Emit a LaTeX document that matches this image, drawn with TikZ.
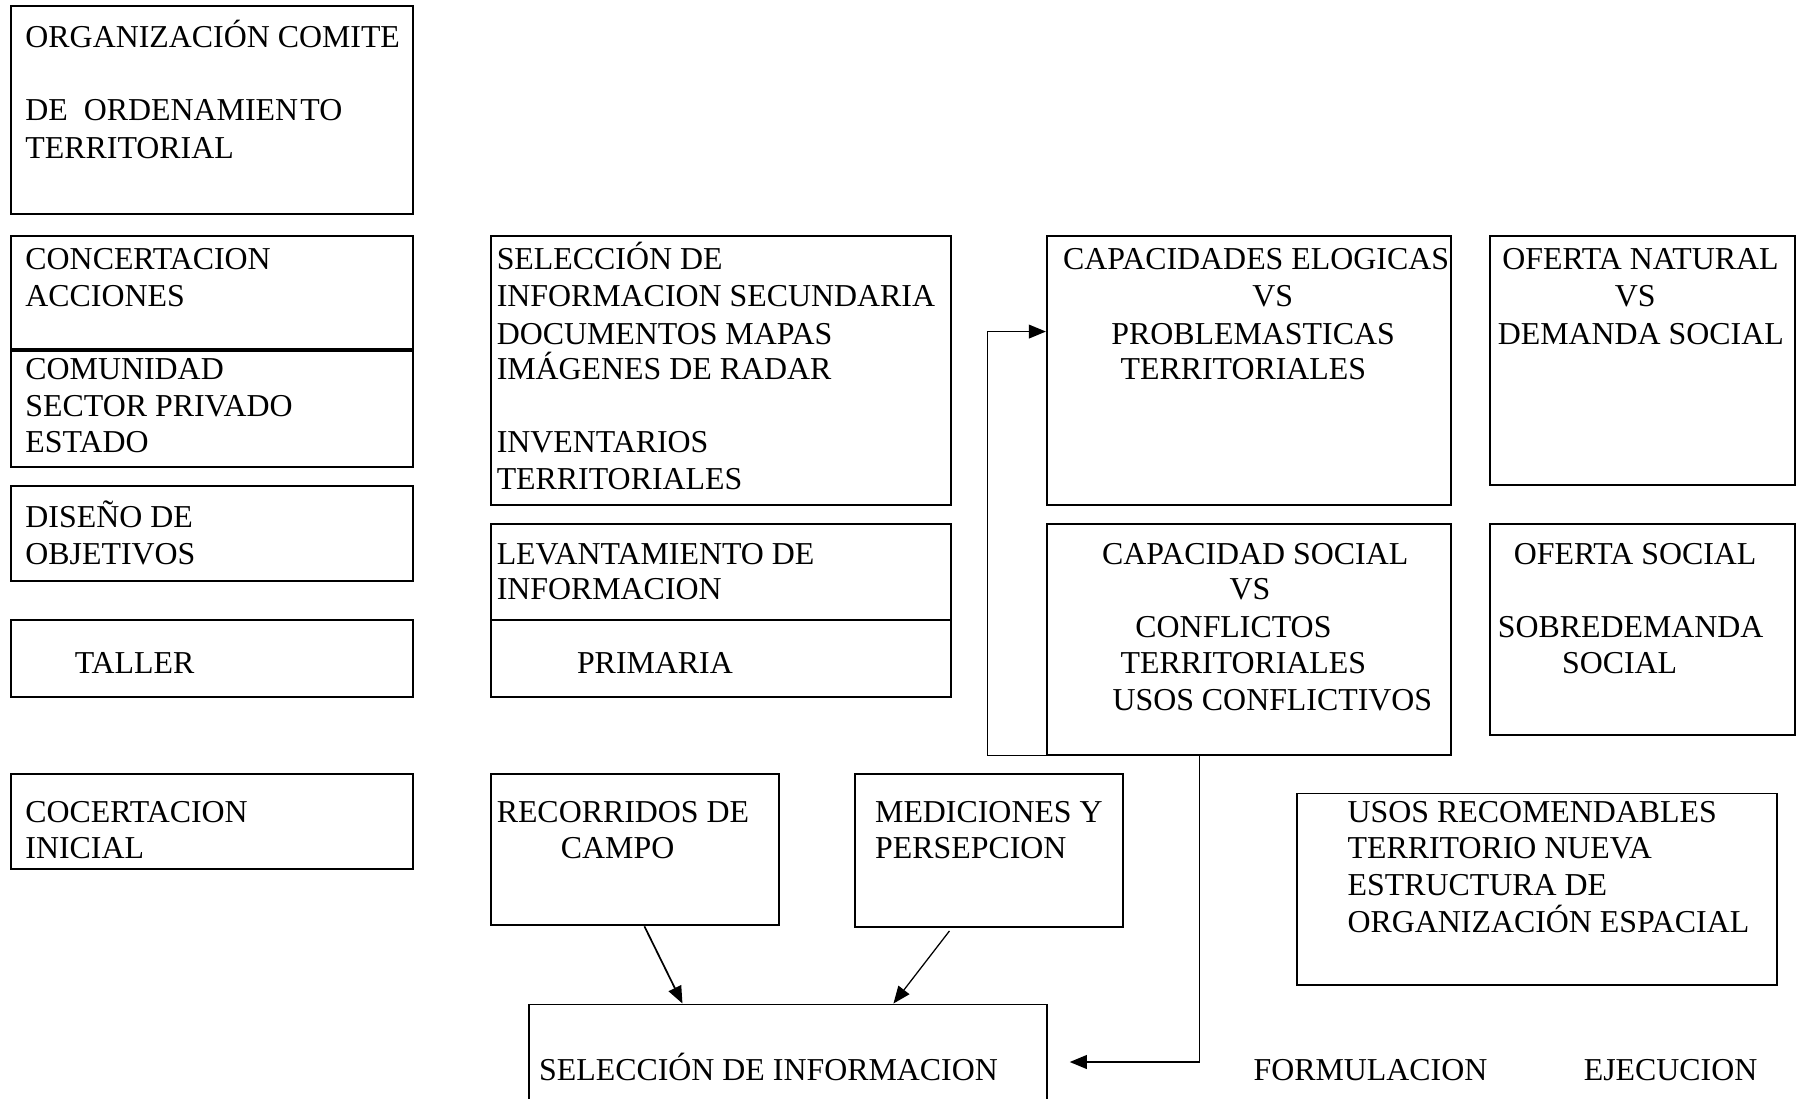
\documentclass[tikz,border=0pt]{standalone}
\usepackage{fontspec}
\setmainfont{Liberation Serif}
\usetikzlibrary{arrows.meta,calc}
\begin{document}
\begin{tikzpicture}[x=1pt,y=-1pt,
  box/.style={draw, line width=1.7pt, rectangle, inner sep=0pt},
  txt/.style={inner sep=0pt, font=\fontsize{27.8pt}{32pt}\selectfont},
  conn/.style={line width=1.5pt, -{Triangle[length=15pt,width=12pt]}}]
\useasboundingbox (0,0) rectangle (1568,958);
\clip (0,0) rectangle (1568,958);
\fill[white] (0,0) rectangle (1568,958);

% ---------- boxes ----------
\node[box, minimum width=350pt, minimum height=182pt] (org) at (185,96) {};
\node[box, minimum width=350pt, minimum height=98pt]  (conc) at (185,255) {};
\node[box, minimum width=350pt, minimum height=101pt] (com) at (185,356.5) {};
\node[box, minimum width=350pt, minimum height=83pt]  (dis) at (185,465.5) {};
\node[box, minimum width=350pt, minimum height=67pt]  (tal) at (185,574.5) {};
\node[box, minimum width=350pt, minimum height=83pt]  (coc) at (185,716.5) {};

\node[box, minimum width=401pt, minimum height=234pt] (sel) at (628.5,323) {};
\node[box, minimum width=401pt, minimum height=84pt]  (lev) at (628.5,499) {};
\node[box, minimum width=401pt, minimum height=67pt]  (pri) at (628.5,574.5) {};

\node[box, minimum width=352pt, minimum height=234pt] (cap) at (1089,323) {};
\node[box, minimum width=266pt, minimum height=217pt] (ofn) at (1432,314.5) {};
\node[box, minimum width=352pt, minimum height=201pt] (cs)  at (1089,557.5) {};
\node[box, minimum width=266pt, minimum height=184pt] (ofs) at (1432,549) {};

\node[box, minimum width=251pt, minimum height=132pt] (rec) at (553.5,741) {};
\node[box, minimum width=233pt, minimum height=133pt] (med) at (862.5,741.5) {};
\node[box, minimum width=419pt, minimum height=167pt] (usos) at (1340.5,775.5) {};
\node[box, minimum width=452pt, minimum height=110pt] (seli) at (687,931) {};

% ---------- texts (baseline = line centre + 9) ----------
\node[txt, anchor=base west] (t1a) at (22,41) {ORGANIZACIÓN COMITE};
\node[txt, anchor=base west] (t1b) at (22,105) {DE\ \ ORDENAMIEN\hspace{2pt}TO};
\node[txt, anchor=base west] (t1c) at (22,138) {TERRITORIAL};

\node[txt, anchor=base west] (t2a) at (22,235) {CONCERTACION};
\node[txt, anchor=base west] (t2b) at (22,267) {ACCIONES};

\node[txt, anchor=base west] (t3a) at (22,331) {COMUNIDAD};
\node[txt, anchor=base west] (t3b) at (22,363) {SECTOR PRIVADO};
\node[txt, anchor=base west] (t3c) at (22,395) {ESTADO};

\node[txt, anchor=base west] (t4a) at (22,460) {DISEÑO DE};
\node[txt, anchor=base west] (t4b) at (22,492) {OBJETIVOS};

\node[txt, anchor=base west] (t5a) at (65,587) {TALLER};

\node[txt, anchor=base west] (t6a) at (22,717) {COCERTACION};
\node[txt, anchor=base west] (t6b) at (22,749) {INICIAL};

\node[txt, anchor=base west] (t7a) at (433,235) {SELECCIÓN DE};
\node[txt, anchor=base west] (t7b) at (433,267) {INFORMACION SECUNDARIA};
\node[txt, anchor=base west] (t7c) at (433,300) {DOCUMENTOS MAPAS};
\node[txt, anchor=base west] (t7d) at (433,331) {IMÁGENES DE RADAR};
\node[txt, anchor=base west] (t7e) at (433,395) {INVENTARIOS};
\node[txt, anchor=base west] (t7f) at (433,427) {TERRITORIALES};

\node[txt, anchor=base west] (t8a) at (433,492) {LEVANTAMIENTO DE};
\node[txt, anchor=base west] (t8b) at (433,523) {INFORMACION};
\node[txt, anchor=base west] (t9a) at (503,587) {PRIMARIA};

\node[txt, anchor=base west] (t10a) at (927,235) {CAPACIDADES ELOGICAS};
\node[txt, anchor=base]      (t10b) at (1110,267) {VS};
\node[txt, anchor=base west] (t10c) at (969,300) {PROBLEMASTICAS};
\node[txt, anchor=base west] (t10d) at (977,331) {TERRITORIALES};

\node[txt, anchor=base west] (t11a) at (1310,235) {OFERTA NATURAL};
\node[txt, anchor=base]      (t11b) at (1426,267) {VS};
\node[txt, anchor=base west] (t11c) at (1306,300) {DEMANDA SOCIAL};

\node[txt, anchor=base west] (t12a) at (961,492) {CAPACIDAD SOCIAL};
\node[txt, anchor=base]      (t12b) at (1090,523) {VS};
\node[txt, anchor=base west] (t12c) at (990,556) {CONFLICTOS};
\node[txt, anchor=base west] (t12d) at (977,587) {TERRITORIALES};
\node[txt, anchor=base west] (t12e) at (970,620) {USOS CONFLICTIVOS};

\node[txt, anchor=base west] (t13a) at (1320,492) {OFERTA SOCIAL};
\node[txt, anchor=base west] (t13b) at (1306,556) {SOBREDEMANDA};
\node[txt, anchor=base west] (t13c) at (1362,587) {SOCIAL};

\node[txt, anchor=base west] (t14a) at (433,717) {RECORRIDOS DE};
\node[txt, anchor=base west] (t14b) at (489,749) {CAMPO};

\node[txt, anchor=base west] (t15a) at (763,717) {MEDICIONES Y};
\node[txt, anchor=base west] (t15b) at (763,749) {PERSEPCION};

\node[txt, anchor=base west] (t16a) at (1175,717) {USOS RECOMENDABLES};
\node[txt, anchor=base west] (t16b) at (1175,749) {TERRITORIO NUEVA};
\node[txt, anchor=base west] (t16c) at (1175,781) {ESTRUCTURA DE};
\node[txt, anchor=base west] (t16d) at (1175,813) {ORGANIZACIÓN ESPACIAL};

\node[txt, anchor=base west] (t17a) at (470,942) {SELECCIÓN DE INFORMACION};
\node[txt, anchor=base west] (form) at (1093,942) {FORMULACION};
\node[txt, anchor=base west] (ejec) at (1381,942) {EJECUCION};

% ---------- connectors ----------
\coordinate (loopc) at ($(cs.south west)+(-51,0)$);
\coordinate (capin) at ($(cap.north west)+(0,84)$);
\draw[conn] (cs.south west) -- (loopc) |- (capin);

\coordinate (csout) at ($(cs.south west)+(134,0)$);
\coordinate (selin) at ($(seli.north east)+(19,51)$);
\draw[conn] (csout) |- (selin);

\coordinate (recout) at ($(rec.south)+(8.5,0)$);
\coordinate (recin) at ($(seli.north west)+(135,0)$);
\draw[conn] (recout) -- (recin);

\coordinate (medout) at ($(med.south)+(-34.5,3)$);
\coordinate (medin) at ($(seli.north west)+(319,0)$);
\draw[conn, line width=1.1pt] (medout) -- (medin);
\end{tikzpicture}
\end{document}
